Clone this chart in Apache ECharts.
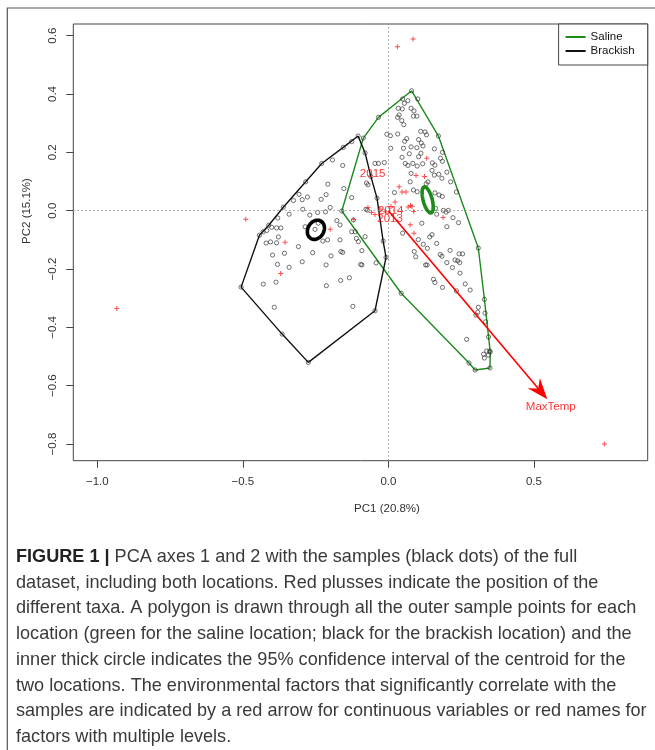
<!DOCTYPE html>
<html><head><meta charset="utf-8">
<script src="https://cdn.jsdelivr.net/npm/echarts@6/dist/echarts.min.js"></script>
<style>html,body{margin:0;padding:0;background:#fff}#c{width:655px;height:750px}</style>
</head><body><div id="c"></div>
<script>
// ---- tick labels ----
const xTicks = [-1.0, -0.5, 0.0, 0.5];
const yTicks = [-0.8, -0.6, -0.4, -0.2, 0.0, 0.2, 0.4, 0.6];

// ---- samples (black open circles) ----
const samples = [
 [-0.208,0.091],[-0.229,0.162],[-0.284,0.099],[-0.307,0.056],[-0.326,0.035],[-0.296,0.038],[-0.278,0.047],[-0.231,0.039],[-0.214,0.055],[-0.361,0.012],
 [-0.341,-0.012],[-0.294,0.005],[-0.270,-0.015],[-0.243,-0.006],[-0.216,-0.004],[-0.380,-0.025],[-0.411,-0.050],[-0.401,-0.057],[-0.384,-0.059],[-0.369,-0.059],
 [-0.418,-0.068],[-0.430,-0.072],[-0.443,-0.084],[-0.378,-0.090],[-0.286,-0.055],[-0.252,-0.064],[-0.241,-0.043],[-0.209,-0.100],[-0.225,-0.104],[-0.420,-0.111],
 [-0.405,-0.107],[-0.384,-0.110],[-0.309,-0.123],[-0.260,-0.144],[-0.398,-0.152],[-0.357,-0.146],[-0.192,0.174],[-0.157,0.155],[-0.153,0.076],[-0.200,0.011],
 [-0.177,-0.034],[-0.166,-0.049],[-0.166,-0.100],[-0.126,0.237],[-0.126,0.045],[-0.077,0.005],[-0.072,0.002],[-0.126,-0.072],[-0.114,-0.072],[-0.110,-0.095],
 [-0.103,-0.106],[-0.080,-0.089],[-0.070,0.089],[-0.075,0.095],[-0.163,-0.140],[-0.157,-0.143],[-0.091,-0.137],[-0.381,-0.184],[-0.341,-0.194],[-0.296,-0.175],
 [-0.214,-0.186],[-0.197,-0.155],[-0.095,-0.184],[-0.042,-0.179],[-0.430,-0.252],[-0.386,-0.245],[-0.213,-0.257],[-0.164,-0.239],[-0.134,-0.230],[-0.392,-0.331],
 [-0.122,-0.328],[-0.091,-0.186],[-0.120,-0.032],
 [-0.104,0.256],[-0.506,-0.262],[-0.365,-0.423],[-0.275,-0.520],[-0.046,-0.343],[-0.008,-0.160],[-0.018,-0.104],[-0.039,0.043],[-0.080,0.198],[-0.155,0.217],[-0.060,0.117],
 [-0.046,0.162],[-0.034,0.162],[-0.014,0.165],[0.021,0.062],[-0.005,0.262],[0.007,0.257],[0.032,0.263],[0.008,0.214],
 [0.049,0.383],[0.067,0.377],[0.101,0.383],[0.055,0.368],[0.034,0.351],[0.048,0.349],[0.078,0.351],[0.088,0.342],[0.037,0.328],[0.032,0.320],
 [0.086,0.324],[0.098,0.324],[0.046,0.309],[0.053,0.295],[0.063,0.247],[0.056,0.238],[0.111,0.272],[0.126,0.270],[0.131,0.260],[0.104,0.244],
 [0.113,0.232],[0.119,0.222],[0.052,0.214],[0.078,0.219],[0.098,0.216],[0.072,0.195],[0.047,0.183],[0.112,0.197],[0.104,0.185],[0.158,0.212],
 [0.186,0.200],[0.179,0.180],[0.186,0.169],[0.058,0.162],[0.067,0.155],[0.084,0.162],[0.099,0.153],[0.118,0.161],[0.151,0.164],[0.160,0.156],
 [0.078,0.128],[0.150,0.138],[0.158,0.122],[0.173,0.125],[0.201,0.132],[0.136,0.099],[0.130,0.092],[0.184,0.111],[0.214,0.099],[0.075,0.099],
 [0.086,0.071],[0.099,0.065],[0.160,0.061],[0.174,0.054],[0.185,0.049],[0.234,0.064],[0.189,0.001],[0.198,-0.005],[0.206,0.001],[0.166,-0.012],
 [0.162,0.008],[0.222,-0.024],[0.241,-0.041],[0.115,-0.043],[0.049,-0.077],[0.201,-0.055],[0.150,-0.082],[0.142,-0.090],[0.103,-0.099],[0.120,-0.115],
 [0.134,-0.129],[0.166,-0.112],[0.089,-0.140],[0.094,-0.158],[0.178,-0.150],[0.184,-0.156],[0.212,-0.136],[0.243,-0.148],[0.255,-0.148],[0.229,-0.169],
 [0.238,-0.172],[0.245,-0.178],[0.128,-0.186],[0.133,-0.186],[0.201,-0.178],[0.220,-0.195],[0.246,-0.214],[0.155,-0.235],[0.160,-0.246],[0.186,-0.263],
 [0.264,-0.251],[0.281,-0.272],[0.234,-0.275],[0.309,-0.331],[0.307,-0.348],[0.301,-0.358],[0.332,-0.351],[0.334,-0.381],[0.269,-0.441],[0.344,-0.433],
 [0.338,-0.481],[0.348,-0.481],[0.327,-0.492],[0.344,-0.495],[0.330,-0.505],
 [0.080,0.411],[0.172,0.256],[0.309,-0.128],[0.330,-0.304],[0.350,-0.484],[0.349,-0.539],[0.298,-0.546],[0.277,-0.522],[0.044,-0.283],[-0.160,-0.001],[-0.086,0.249],[-0.034,0.320]
];

// ---- taxa (red plusses) ----
const taxa = [
 [0.031,0.562],[0.085,0.589],[0.132,0.180],[0.095,0.121],[0.124,0.117],[0.037,0.082],[0.047,0.064],[0.061,0.064],[0.023,0.030],[0.076,0.018],
 [0.068,0.013],[0.081,0.014],[0.087,-0.003],[0.009,0.014],[-0.070,0.011],[-0.058,-0.006],[-0.046,-0.013],[0.075,-0.048],[0.088,-0.077],[0.188,-0.023],
 [-0.119,-0.030],[-0.200,-0.064],[-0.490,-0.029],[-0.355,-0.108],[-0.370,-0.215],[-0.933,-0.335],[0.742,-0.800],[-0.029,0.006],[-0.011,-0.004]
];

// ---- hulls ----
const salineHull = [[0.080,0.411],[0.172,0.256],[0.309,-0.128],[0.330,-0.304],[0.350,-0.484],[0.349,-0.539],[0.298,-0.546],[0.277,-0.522],[0.044,-0.283],[-0.160,-0.001],[-0.086,0.249],[-0.034,0.320],[0.080,0.411]];
const brackishHull = [[-0.104,0.256],[-0.155,0.217],[-0.229,0.162],[-0.284,0.099],[-0.361,0.012],[-0.411,-0.050],[-0.443,-0.084],[-0.506,-0.262],[-0.365,-0.423],[-0.275,-0.520],[-0.046,-0.343],[-0.008,-0.160],[-0.018,-0.104],[-0.039,0.043],[-0.060,0.117],[-0.080,0.198],[-0.104,0.256]];

// ---- centroid 95% CI ellipses: [cx, cy, semiMajor, semiMinor, angleDeg] ----
const salineCI = [[0.135,0.037,0.046,0.0155,105]];
const brackishCI = [[-0.249,-0.0655,0.0344,0.0275,60]];

// ---- environmental factors ----
const factorNames = ['2015','2014','2013'];
const factorPos = [[-0.054,0.128],[0.008,0.000],[0.006,-0.027]];
const arrowName = 'MaxTemp';
const arrowTip = [0.546,-0.646];
const arrowLabelPos = [0.558,-0.672];

const captionLines = [
 'dataset, including both locations. Red plusses indicate the position of the',
 'different taxa. A polygon is drawn through all the outer sample points for each',
 'location (green for the saline location; black for the brackish location) and the',
 'inner thick circle indicates the 95% confidence interval of the centroid for the',
 'two locations. The environmental factors that significantly correlate with the',
 'samples are indicated by a red arrow for continuous variables or red names for',
 'factors with multiple levels.'
];
const captionFirst = ['FIGURE 1 |', ' PCA axes 1 and 2 with the samples (black dots) of the full'];

const FONT = 'Liberation Sans, Arial, Helvetica, sans-serif';
const CAP = 18.1;
const fmt = v => (Math.abs(v) < 1e-9 ? '0.0' : v.toFixed(1)).replace('-', '\u2212');

function ellipseRender(color){
  return function(params, api){
    const cx=api.value(0), cy=api.value(1), a=api.value(2), b=api.value(3), ang=api.value(4)*Math.PI/180;
    const pts=[];
    for(let i=0;i<72;i++){
      const t=i/72*2*Math.PI;
      const x=cx+a*Math.cos(t)*Math.cos(ang)-b*Math.sin(t)*Math.sin(ang);
      const y=cy+a*Math.cos(t)*Math.sin(ang)+b*Math.sin(t)*Math.cos(ang);
      pts.push(api.coord([x,y]));
    }
    return {type:'polygon', shape:{points:pts}, style:{fill:'none', stroke:color, lineWidth:3.6}};
  };
}

const chart = echarts.init(document.getElementById('c'), null, {renderer:'canvas'});
const caption = [];
caption.push({type:'text', x:16, y:557, style:{
  text:'{b|'+captionFirst[0]+'}{r|'+captionFirst[1]+'}', verticalAlign:'middle',
  rich:{b:{fontFamily:FONT, fontSize:CAP, fontWeight:'bold', fill:'#222'}, r:{fontFamily:FONT, fontSize:CAP, fill:'#3a3a3a'}}
}});
captionLines.forEach((t,i)=>{
  caption.push({type:'text', x:16, y:557+25.7*(i+1), style:{text:t, fontFamily:FONT, fontSize:CAP, fill:'#3a3a3a', verticalAlign:'middle'}});
});

chart.setOption({
  animation:false,
  backgroundColor:'#fff',
  grid:{left:73.3, right:7.3, top:24, bottom:289.3, show:true, borderColor:'#444', borderWidth:1, outerBoundsMode:'none'},
  xAxis:{type:'value', min:-1.0825, max:0.891,
    axisLine:{show:false, onZero:false},
    axisTick:{show:true, inside:false, length:7, customValues:xTicks, lineStyle:{color:'#444'}},
    axisLabel:{show:true, customValues:xTicks, formatter:fmt, margin:15, fontFamily:FONT, fontSize:11.5, color:'#333'},
    splitLine:{show:false}},
  yAxis:{type:'value', min:-0.857, max:0.640,
    axisLine:{show:false, onZero:false},
    axisTick:{show:true, inside:false, length:7, customValues:yTicks, lineStyle:{color:'#444'}},
    axisLabel:{show:true, customValues:yTicks, formatter:fmt, rotate:90, margin:14, fontFamily:FONT, fontSize:11.5, color:'#333'},
    splitLine:{show:false}},
  legend:{orient:'vertical', right:7.3, top:24, padding:[6,13,7,7], itemGap:0, itemWidth:20, itemHeight:2,
    borderColor:'#444', borderWidth:1, backgroundColor:'#fff',
    textStyle:{fontFamily:FONT, fontSize:11.5, color:'#111', lineHeight:14},
    data:[{name:'Saline', icon:'rect'},{name:'Brackish', icon:'rect'}]},
  graphic:[
    {type:'rect', shape:{x:7.3, y:8, width:700, height:800}, style:{fill:'none', stroke:'#555', lineWidth:1.2}, silent:true},
    {type:'text', x:387, y:509, style:{text:'PC1 (20.8%)', fontFamily:FONT, fontSize:11.5, fill:'#333', align:'center', verticalAlign:'middle'}},
    {type:'text', x:27, y:211, rotation:Math.PI/2, style:{text:'PC2 (15.1%)', fontFamily:FONT, fontSize:11.5, fill:'#333', align:'center', verticalAlign:'middle'}}
  ].concat(caption),
  series:[
    {name:'Saline', type:'line', data:salineHull, color:'#1d8a1d', showSymbol:false, symbol:'none', lineStyle:{color:'#1d8a1d', width:1.4}, z:3, silent:true},
    {name:'Brackish', type:'line', data:brackishHull, color:'#111', showSymbol:false, symbol:'none', lineStyle:{color:'#111', width:1.4}, z:3, silent:true},
    {name:'samples', type:'scatter', data:samples, symbol:'circle', symbolSize:4.2,
      itemStyle:{color:'rgba(0,0,0,0)', borderColor:'#222', borderWidth:0.8}, z:4, silent:true,
      markLine:{silent:true, symbol:['none','none'], label:{show:false},
        lineStyle:{type:[1.5,2.5], color:'#999', width:1}, data:[{xAxis:0},{yAxis:0}]}},
    {name:'taxa', type:'scatter', data:taxa, symbol:'path://M4,0H6V4H10V6H6V10H4V6H0V4H4Z', symbolSize:5,
      itemStyle:{color:'#ff2020'}, z:5, silent:true},
    {name:'salineCI', type:'custom', data:salineCI, renderItem:ellipseRender('#1d8a1d'), z:6, silent:true},
    {name:'brackishCI', type:'custom', data:brackishCI, renderItem:ellipseRender('#000'), z:6, silent:true},
    {name:'arrow', type:'custom', data:[[0,0,arrowTip[0],arrowTip[1]]], z:6, silent:true,
      renderItem:function(params, api){
        const p0=api.coord([api.value(0),api.value(1)]), p1=api.coord([api.value(2),api.value(3)]);
        const dx=p1[0]-p0[0], dy=p1[1]-p0[1], L=Math.hypot(dx,dy), ux=dx/L, uy=dy/L, px=-uy, py=ux;
        const hl=21, hw=8, notch=14;
        const b=[p1[0]-ux*hl, p1[1]-uy*hl], n=[p1[0]-ux*notch, p1[1]-uy*notch];
        return {type:'group', children:[
          {type:'line', shape:{x1:p0[0],y1:p0[1],x2:n[0],y2:n[1]}, style:{stroke:'#ff0000', lineWidth:1.6}},
          {type:'polygon', shape:{points:[p1,[b[0]+px*hw,b[1]+py*hw],n,[b[0]-px*hw,b[1]-py*hw]]}, style:{fill:'#ff0000'}}
        ]};
      }},
    {name:'labels', type:'scatter', symbolSize:0, z:7, silent:true,
      data:factorNames.map((n,i)=>({name:n, value:factorPos[i]})).concat([{name:arrowName, value:arrowLabelPos}]),
      label:{show:true, position:'inside', formatter:'{b}', color:'#ff0000', fontFamily:FONT, fontSize:11.5}}
  ]
});
</script></body></html>
